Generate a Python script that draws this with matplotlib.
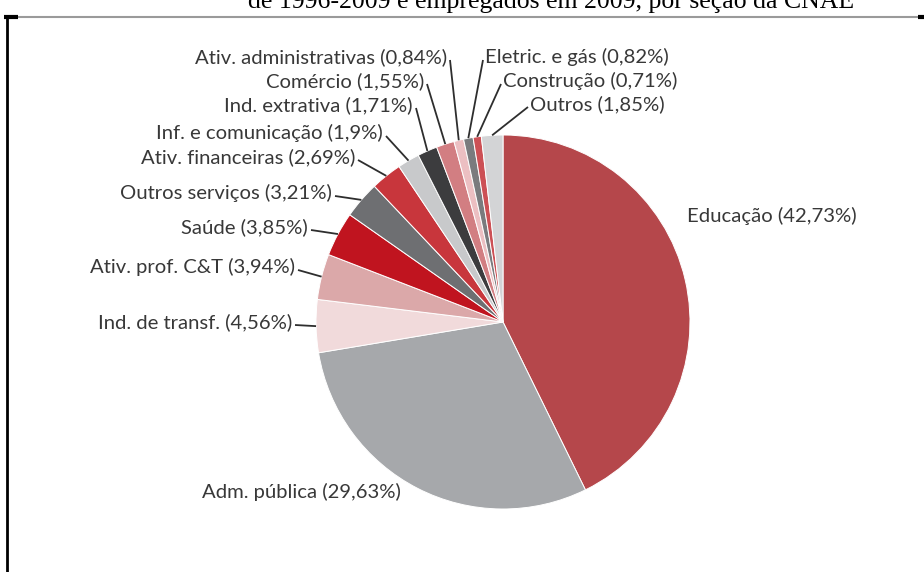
import numpy as np
import matplotlib
matplotlib.use('Agg')
from matplotlib import pyplot as plt

# Participação por seção da CNAE (%), no sentido horário a partir do topo
secoes = ['Educação', 'Adm. pública', 'Ind. de transf.', 'Ativ. prof. C&T',
          'Saúde', 'Outros serviços', 'Ativ. financeiras', 'Inf. e comunicação',
          'Ind. extrativa', 'Comércio', 'Ativ. administrativas', 'Eletric. e gás',
          'Construção', 'Outros']
percentuais = [42.73, 29.63, 4.56, 3.94, 3.85, 3.21, 2.69, 1.9,
               1.71, 1.55, 0.84, 0.82, 0.71, 1.85]
cores = ['#b5474b', '#a6a8ab', '#f1dadb', '#dba8a9', '#c0141f', '#6e6f72',
         '#c8363c', '#c8c9cb', '#3c3c3e', '#d27e82', '#ecbfc2', '#7a7b7e',
         '#cc5055', '#d3d4d6']

# posição dos rótulos (pixels), alinhamento e se leva linha de chamada
rotulos_pos = [(687, 216, 'left', False), (202, 492, 'left', False),
               (292, 322, 'right', True), (295, 267, 'right', True),
               (308, 227, 'right', True), (332, 193, 'right', True),
               (355, 157, 'right', True), (383, 133, 'right', True),
               (413, 105, 'right', True), (424, 81, 'right', True),
               (447, 57, 'right', True), (485, 57, 'left', True),
               (503, 81, 'left', True), (530, 104, 'left', True)]

W, H = 924, 572
cx, cy, r = 503, 322, 187

fig = plt.figure(figsize=(W / 100, H / 100), dpi=100)
ax = fig.add_axes([0, 0, 1, 1])

# eixo y invertido: counterclock=True aparece no sentido horário
wedges, _ = ax.pie(percentuais, colors=cores, startangle=-90, counterclock=True,
                   center=(cx, cy), radius=r,
                   wedgeprops=dict(edgecolor='white', linewidth=0.7))
ax.set_xlim(0, W)
ax.set_ylim(H, 0)
ax.set_aspect('equal')
ax.axis('off')

fonte = ['Lato', 'DejaVu Sans']
for w, nome, p, (x, y, ha, linha) in zip(wedges, secoes, percentuais, rotulos_pos):
    txt = '%s (%s%%)' % (nome, ('%g' % p).replace('.', ','))
    ax.text(x, y, txt, ha=ha, va='center', fontsize=14.6, color='#383838',
            family=fonte)
    if linha:
        ang = np.deg2rad((w.theta1 + w.theta2) / 2)
        ex = cx + r * np.cos(ang)
        ey = cy + r * np.sin(ang)
        sx = x + 3 if ha == 'right' else x - 2
        sy = y + 3
        ax.plot([sx, ex], [sy, ey], color='#2e2e2e', lw=1.3, solid_capstyle='butt')

# título cortado no topo
ax.text(551, 8, 'de 1996-2009 e empregados em 2009, por seção da CNAE',
        ha='center', va='baseline', fontsize=18.5, family='Liberation Serif',
        color='black')

# moldura
yl = 16.5
ax.plot([18, 918], [yl, yl], color='#9a9a9a', lw=1.5, solid_capstyle='butt')
ax.plot([4, 18], [yl, yl], color='black', lw=3, solid_capstyle='butt')
ax.plot([918, 924], [yl, yl], color='black', lw=3, solid_capstyle='butt')
ax.plot([6.5, 6.5], [yl - 1, H], color='black', lw=2, solid_capstyle='butt')

fig.savefig('out.png', dpi=100)
